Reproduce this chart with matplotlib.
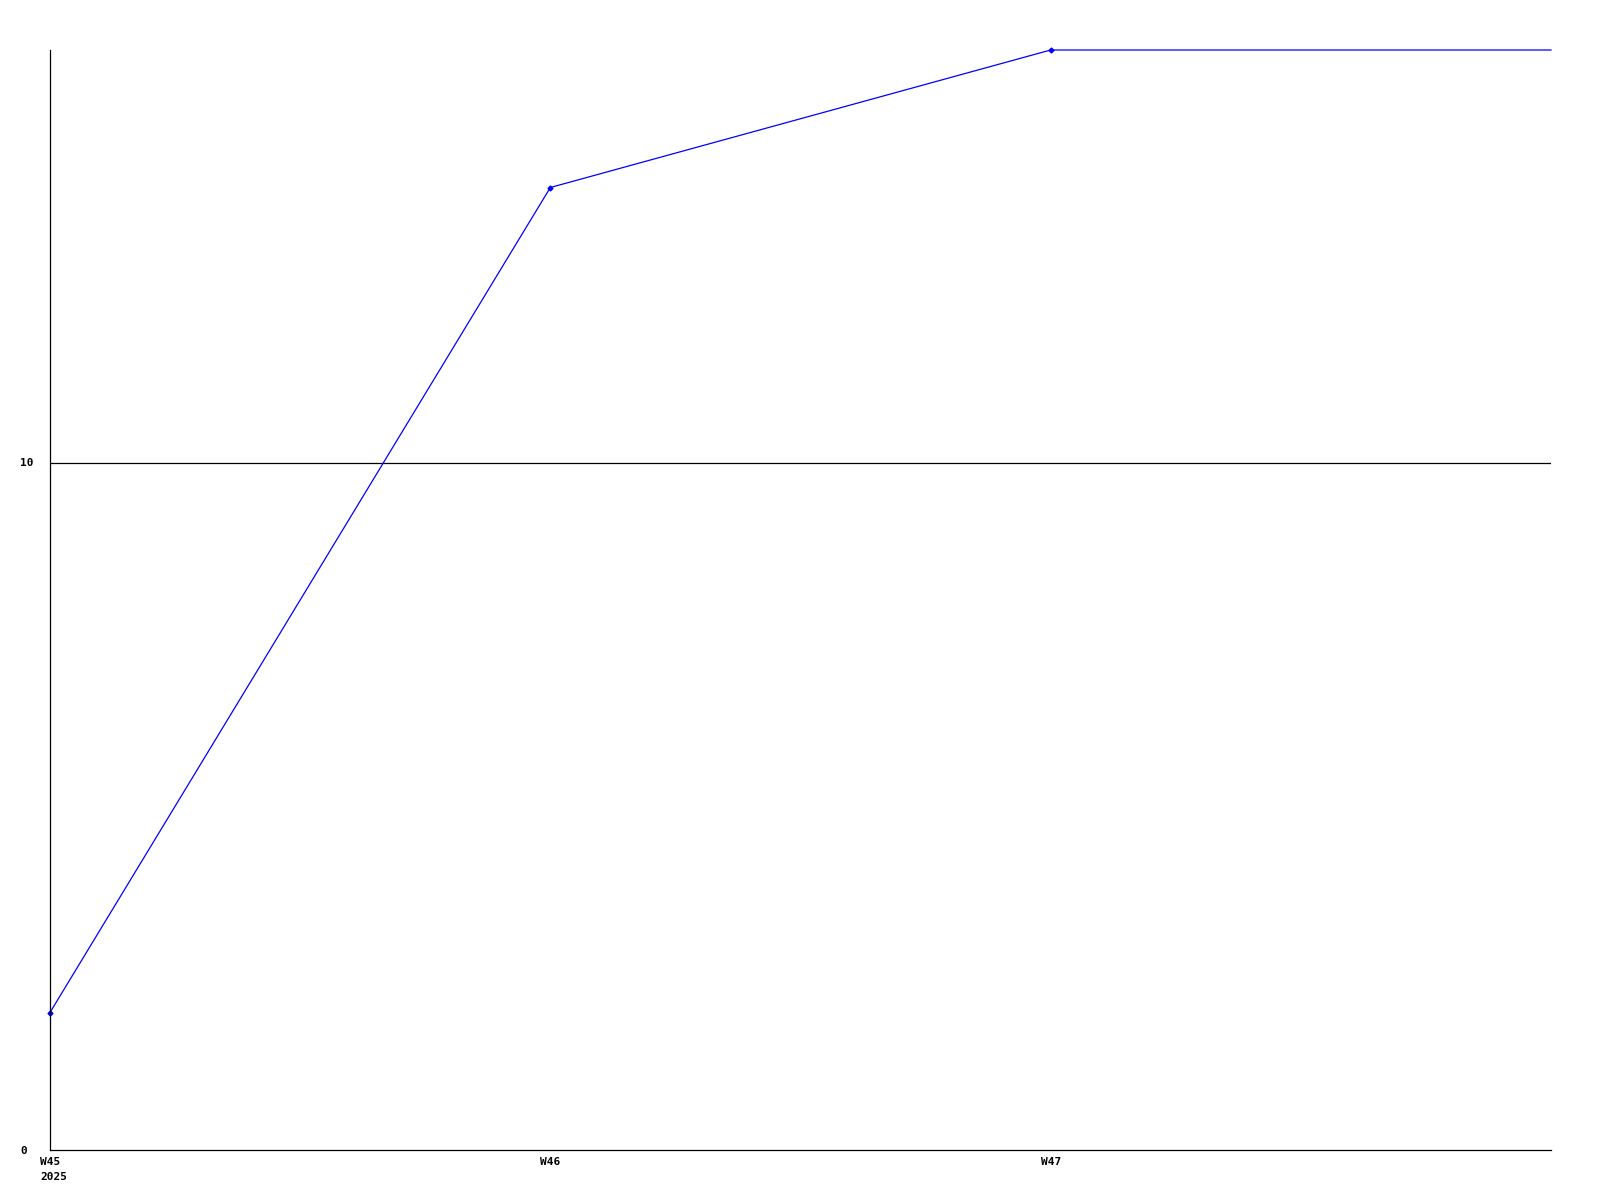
import matplotlib
matplotlib.use('Agg')
import matplotlib.pyplot as plt
from matplotlib.transforms import ScaledTranslation

# weekly values (last point sits on the right edge)
weeks = [0, 1, 2, 3]
values = [2, 14, 16, 16]
tick_labels = ['W45\n2025', 'W46', 'W47']
y_ticks = [0, 10]

fig = plt.figure(figsize=(16, 12), dpi=100)
ax = fig.add_axes([50 / 1600, 50 / 1200, 1501 / 1600, 1100 / 1200])

ax.plot(weeks, values, color='#0000ff', linewidth=0.9,
        marker='D', markersize=2.5, markevery=[0, 1, 2], clip_on=False)

ax.set_xlim(0, 3)
ax.set_ylim(0, 16)

# grid line at 10
ax.axhline(10, color='black', linewidth=0.9, zorder=0)

ax.set_xticks(weeks[:3])
ax.set_xticklabels(tick_labels, fontfamily='DejaVu Sans Mono', fontweight='bold',
                   fontsize=8, ha='left', multialignment='left', linespacing=1.6)
ax.set_yticks(y_ticks)
ax.set_yticklabels([str(v) for v in y_ticks], fontfamily='DejaVu Sans Mono',
                   fontweight='bold', fontsize=8, ha='left')
ax.tick_params(axis='both', length=0)
ax.tick_params(axis='y', pad=21.6)
ax.tick_params(axis='x', pad=5)

# x labels start a little left of their tick
shift = ScaledTranslation(-10 / 100, 0, fig.dpi_scale_trans)
for lbl in ax.get_xticklabels():
    lbl.set_transform(lbl.get_transform() + shift)

for s in ['top', 'right']:
    ax.spines[s].set_visible(False)
for s in ['left', 'bottom']:
    ax.spines[s].set_linewidth(0.9)
    ax.spines[s].set_color('black')

fig.savefig('out.png', dpi=100)
